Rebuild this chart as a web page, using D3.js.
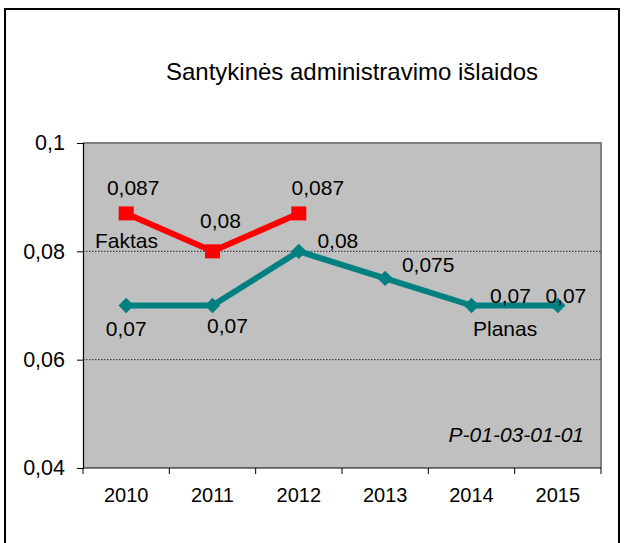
<!DOCTYPE html>
<html><head><meta charset="utf-8">
<script src="https://cdn.jsdelivr.net/npm/d3@7"></script>
<style>body{margin:0;background:#fff}svg{display:block}text{font-family:"Liberation Sans",Arial,sans-serif}</style>
</head><body>
<script>
const years = ["2010","2011","2012","2013","2014","2015"];
const faktasYears = ["2010","2011","2012"];
const faktas = [0.087, 0.08, 0.087];
const planas = [0.07, 0.07, 0.08, 0.075, 0.07, 0.07];
const yTicks = [0.04, 0.06, 0.08, 0.1];
const yTickLabels = ["0,04","0,06","0,08","0,1"];
const faktasLabelPos = ["above","aboveHigh","aboveRight"];
const planasLabelPos = ["below","belowRight","right","rightHigh","right","near"];
const title = "Santykinės administravimo išlaidos";
const code = "P-01-03-01-01";

const W = 625, H = 543;
const svg = d3.select("body").append("svg").attr("width", W).attr("height", H);
svg.append("rect").attr("x", 5).attr("y", 9).attr("width", 614).attr("height", 560)
  .attr("fill", "#fff").attr("stroke", "#000").attr("stroke-width", 2);

const L = 83, R = 601, T = 143, B = 468;
const x = d3.scaleBand().domain(years).range([L, R]);
const y = d3.scaleLinear().domain([0.04, 0.1]).range([B, T]);
const cx = d => x(d) + x.bandwidth() / 2;

svg.append("rect").attr("x", L).attr("y", T).attr("width", R - L).attr("height", B - T)
  .attr("fill", "#C0C0C0");
svg.append("path").attr("d", `M${L},${T}H${R}V${B}`).attr("fill", "none")
  .attr("stroke", "#808080").attr("stroke-width", 2);

// gridlines
svg.selectAll("line.grid").data([0.06, 0.08]).join("line")
  .attr("x1", L).attr("x2", R).attr("y1", d => y(d)).attr("y2", d => y(d))
  .attr("stroke", "#000").attr("stroke-width", 0.8).attr("stroke-dasharray", "1.5,1.5");

// y axis
const yAxis = d3.axisLeft(y).tickValues(yTicks).tickSize(6).tickPadding(12)
  .tickFormat((d, i) => yTickLabels[i]);
const ga = svg.append("g").attr("transform", `translate(${L},0)`).call(yAxis);
ga.select(".domain").attr("stroke", "#000").attr("stroke-width", 1.2);
ga.selectAll("text").attr("font-size", 21.5).attr("fill", "#000").attr("font-family", "Liberation Sans, Arial, sans-serif");

// x axis
const gx = svg.append("g").attr("transform", `translate(0,${B})`);
gx.append("line").attr("x1", L).attr("x2", R).attr("y1", 0).attr("y2", 0).attr("stroke", "#000").attr("stroke-width", 1.2);
gx.selectAll("line.t").data(years.concat(["end"])).join("line")
  .attr("x1", (d, i) => i < years.length ? x(d) : R).attr("x2", (d, i) => i < years.length ? x(d) : R)
  .attr("y1", 0).attr("y2", 6).attr("stroke", "#000");
gx.selectAll("text").data(years).join("text")
  .attr("x", d => cx(d)).attr("y", 34).attr("text-anchor", "middle")
  .attr("font-size", 20).text(d => d);

// title
svg.append("text").attr("x", 352).attr("y", 80).attr("text-anchor", "middle")
  .attr("font-size", 24).text(title);

const line = d3.line().x(d => cx(d[0])).y(d => y(d[1]));

// Planas
const pData = years.map((d, i) => [d, planas[i]]);
svg.append("path").datum(pData).attr("d", line).attr("fill", "none")
  .attr("stroke", "#008080").attr("stroke-width", 6).attr("stroke-linejoin", "round");
svg.selectAll("path.dia").data(pData).join("path")
  .attr("d", d3.symbol().type(d3.symbolDiamond2).size(150))
  .attr("transform", d => `translate(${cx(d[0])},${y(d[1])})`).attr("fill", "#008080");

// Faktas
const fData = faktasYears.map((d, i) => [d, faktas[i]]);
svg.append("path").datum(fData).attr("d", line).attr("fill", "none")
  .attr("stroke", "#FF0000").attr("stroke-width", 6).attr("stroke-linejoin", "miter");
svg.selectAll("rect.sq").data(fData).join("rect")
  .attr("x", d => cx(d[0]) - 7.5).attr("y", d => y(d[1]) - 7).attr("width", 15).attr("height", 14)
  .attr("fill", "#FF0000");

const off = {
  above: [7, -18], aboveHigh: [8, -23], aboveRight: [19, -18],
  below: [0, 30], belowRight: [15, 27], right: [39, -3], rightHigh: [43, -6], near: [8, -3]
};
const fmt = v => String(v).replace(".", ",");
function labels(data, pos) {
  svg.append("g").selectAll("text").data(data).join("text")
    .attr("x", (d, i) => cx(d[0]) + off[pos[i]][0])
    .attr("y", (d, i) => y(d[1]) + off[pos[i]][1])
    .attr("text-anchor", "middle").attr("font-size", 21).text(d => fmt(d[1]));
}
labels(fData, faktasLabelPos);
labels(pData, planasLabelPos);

// series names
svg.append("text").attr("x", 95).attr("y", 248).attr("font-size", 21).text("Faktas");
svg.append("text").attr("x", 473).attr("y", 336).attr("font-size", 21).text("Planas");
svg.append("text").attr("x", 584).attr("y", 442).attr("text-anchor", "end")
  .attr("font-size", 21).attr("font-style", "italic").text(code);
</script>
</body></html>
